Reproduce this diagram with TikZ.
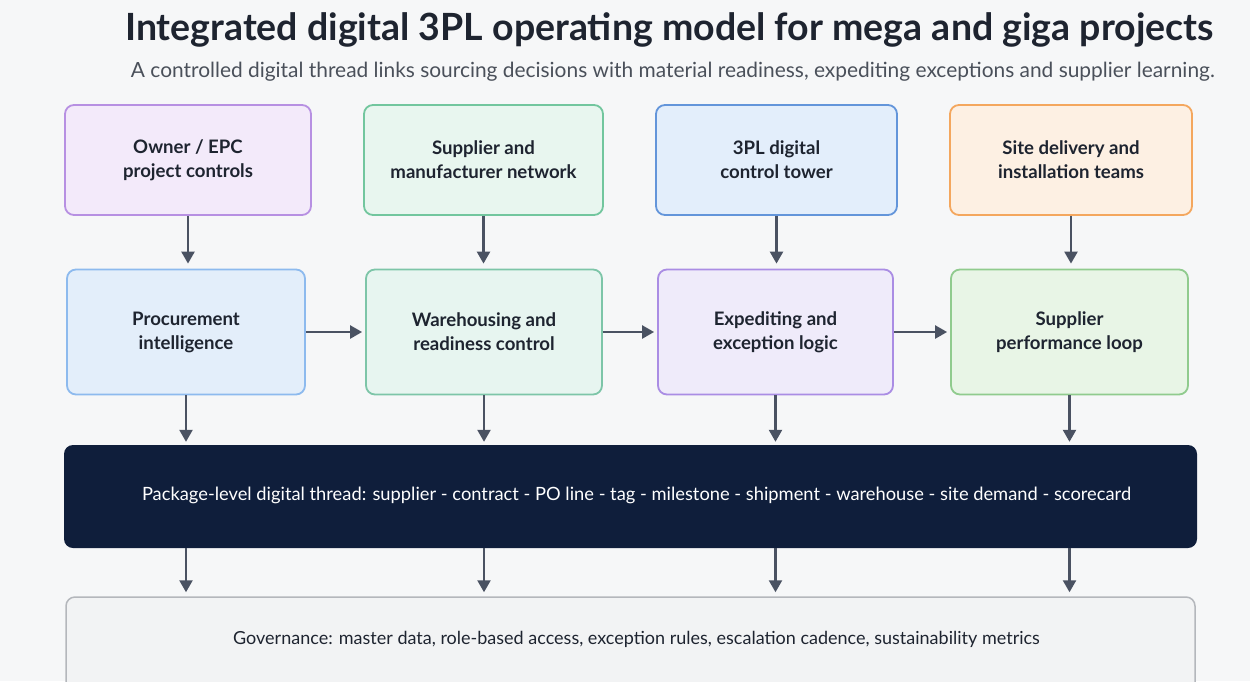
\documentclass[tikz,border=0pt]{standalone}
\usepackage{fontspec}
\setmainfont{Lato}
\usetikzlibrary{arrows.meta,calc}

\definecolor{pagebg}{HTML}{F6F7F8}
\definecolor{ink}{HTML}{1E2430}
\definecolor{subink}{HTML}{4A505A}
\definecolor{arrowc}{HTML}{4A5262}
\definecolor{navy}{HTML}{0F1E3B}
\definecolor{purpleF}{HTML}{F3EAFA}\definecolor{purpleD}{HTML}{B790E2}
\definecolor{greenF}{HTML}{E8F6EF}\definecolor{greenD}{HTML}{72C69E}
\definecolor{blueF}{HTML}{E3EEFB}\definecolor{blueD}{HTML}{6395DA}
\definecolor{orangeF}{HTML}{FDF0E3}\definecolor{orangeD}{HTML}{F4A75E}
\definecolor{lblueF}{HTML}{E3EEFA}\definecolor{lblueD}{HTML}{8DBAEE}
\definecolor{tealF}{HTML}{E7F5F0}\definecolor{tealD}{HTML}{7DC5A8}
\definecolor{violetF}{HTML}{EFEBFA}\definecolor{violetD}{HTML}{AA8DE4}
\definecolor{mintF}{HTML}{E8F5E6}\definecolor{mintD}{HTML}{90CB8E}
\definecolor{govF}{HTML}{F2F3F4}\definecolor{govD}{HTML}{B4B7BC}

\tikzset{
  card/.style={draw=#1D, fill=#1F, line width=1.8pt, rounded corners=9pt,
    align=center, text=ink, font=\fontsize{18.6}{24}\selectfont\bfseries,
    inner sep=0pt},
  toprow/.style={card=#1, minimum height=110pt},
  midrow/.style={card=#1, minimum height=125pt},
  flow/.style={draw=arrowc, line width=2.4pt,
    -{Triangle[length=12pt,width=13pt]}, shorten >=5pt},
}

\begin{document}
\begin{tikzpicture}[x=1pt,y=-1pt]
  \fill[pagebg] (0,0) rectangle (1250,681);
  \useasboundingbox (0,0) rectangle (1250,681);
  \clip (0,0) rectangle (1250,681);

  % heading
  \node[anchor=east, text=ink, font=\fontsize{37.5}{42}\selectfont\bfseries, inner sep=0pt]
    (title) at (1214,30) {Integrated digital 3PL operating model for mega and giga projects};
  \node[anchor=east, text=subink, font=\fontsize{20.9}{25}\selectfont, inner sep=0pt]
    (subtitle) at (1215,72) {A controlled digital thread links sourcing decisions with material readiness, expediting exceptions and supplier learning.};

  % stakeholders
  \node[toprow=purple, minimum width=246pt] (owner) at (188,160) {Owner / EPC\\project controls};
  \node[toprow=green,  minimum width=239pt] (supp)  at (483.5,160) {Supplier and\\manufacturer network};
  \node[toprow=blue,   minimum width=241pt] (tower) at (776.5,160) {3PL digital\\control tower};
  \node[toprow=orange, minimum width=242pt] (site)  at (1071,160) {Site delivery and\\installation teams};

  % capabilities
  \node[midrow=lblue,  minimum width=238pt] (proc)  at (186,332) {Procurement\\intelligence};
  \node[midrow=teal,   minimum width=236pt] (ware)  at (484,332) {Warehousing and\\readiness control};
  \node[midrow=violet, minimum width=235pt] (exped) at (775.5,332) {Expediting and\\exception logic};
  \node[midrow=mint,   minimum width=237pt] (perf)  at (1069.5,332) {Supplier\\performance loop};

  % digital thread band
  \node[fill=navy, rounded corners=9pt, minimum width=1133pt, minimum height=103pt,
        inner sep=0pt]
    (band) at (630.5,496.5) {};
  \node[text=white, font=\fontsize{18.3}{22}\selectfont, inner sep=0pt]
    (bandtext) at (636.5,495) {Package-level digital thread: supplier - contract - PO line - tag - milestone - shipment - warehouse - site demand - scorecard};

  % governance strip
  \node[draw=govD, fill=govF, line width=1.5pt, rounded corners=9pt,
        minimum width=1129pt, minimum height=110pt, inner sep=0pt]
    (gov) at (630.5,652) {};
  \node[text=ink, font=\fontsize{18}{22}\selectfont, inner sep=0pt]
    (govtext) at (636.5,639) {Governance: master data, role-based access, exception rules, escalation cadence, sustainability metrics};

  % stakeholder -> capability
  \draw[flow] (owner.south) -- (owner.south |- proc.north);
  \draw[flow] (supp.south)  -- (supp.south |- ware.north);
  \draw[flow] (tower.south) -- (tower.south |- exped.north);
  \draw[flow] (site.south)  -- (site.south |- perf.north);

  % capability chain
  \draw[flow, shorten >=3pt] (proc.east)  -- (proc.east -| ware.west);
  \draw[flow, shorten >=3pt] (ware.east)  -- (ware.east -| exped.west);
  \draw[flow, shorten >=3pt] (exped.east) -- (exped.east -| perf.west);

  % capability -> thread
  \draw[flow, shorten >=3pt] (proc.south)  -- (proc.south |- band.north);
  \draw[flow, shorten >=3pt] (ware.south)  -- (ware.south |- band.north);
  \draw[flow, shorten >=3pt] (exped.south) -- (exped.south |- band.north);
  \draw[flow, shorten >=3pt] (perf.south)  -- (perf.south |- band.north);

  % thread -> governance
  \draw[flow, shorten >=4pt] (band.south -| proc)  -- (gov.north -| proc);
  \draw[flow, shorten >=4pt] (band.south -| ware)  -- (gov.north -| ware);
  \draw[flow, shorten >=4pt] (band.south -| exped) -- (gov.north -| exped);
  \draw[flow, shorten >=4pt] (band.south -| perf)  -- (gov.north -| perf);
\end{tikzpicture}
\end{document}
